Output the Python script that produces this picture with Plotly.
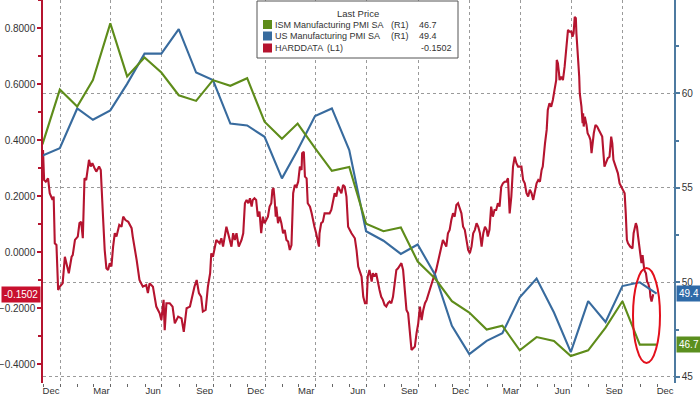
import pandas as pd
import plotly.graph_objects as go

# ---------------- data ----------------
pmi_months = pd.date_range("2020-11-01", periods=37, freq="MS") + pd.offsets.MonthEnd(0)

ism_pmi = [57.3, 60.2, 59.3, 60.7, 63.7, 60.9, 61.9, 61.1, 59.9, 59.6, 60.7, 60.4,
           60.8, 58.5, 57.6, 58.4, 57.1, 55.9, 56.1, 53.1, 52.7, 52.9, 51.1, 50.2,
           49.0, 48.4, 47.5, 47.7, 46.4, 47.1, 46.9, 46.1, 46.4, 47.6, 49.0, 46.7, 46.7]

us_pmi = [56.7, 57.1, 59.2, 58.6, 59.1, 60.5, 62.1, 62.1, 63.4, 61.1, 60.7, 58.4,
          58.3, 57.7, 55.5, 57.0, 58.8, 59.2, 57.0, 52.7, 52.2, 51.5, 52.0, 50.4,
          47.7, 46.2, 46.9, 47.3, 49.2, 50.2, 48.4, 46.3, 49.0, 47.9, 49.8, 50.0, 49.4]

hard_start = "2020-12-01"
hard_days = [0, 2, 5, 9, 12, 17, 19, 21, 24, 27, 30, 35, 39, 42, 46, 51, 53, 57, 62, 65,
             68, 71, 74, 77, 82, 85, 88, 92, 95, 100, 103, 107, 110, 113, 116, 119, 122, 125, 128, 131,
             136, 140, 143, 147, 152, 158, 160, 167, 172, 178, 184, 187, 190, 196, 202, 208, 211, 215, 217, 220,
             226, 231, 235, 241, 247, 251, 256, 262, 267, 270, 274, 278, 282, 285, 290, 294, 298, 300, 303, 306,
             309, 315, 318, 321, 327, 330, 333, 336, 339, 342, 345, 349, 354, 357, 360, 363, 366, 369, 372, 374,
             377, 380, 383, 386, 389, 392, 395, 398, 401, 404, 407, 409, 411, 413, 415, 416, 419, 422, 425, 428,
             431, 434, 437, 440, 443, 446, 449, 452, 455, 458, 461, 462, 465, 467, 470, 472, 476, 479, 481, 484,
             487, 490, 492, 493, 496, 499, 502, 505, 511, 514, 517, 520, 523, 526, 529, 532, 535, 538, 541, 544,
             550, 556, 559, 562, 565, 568, 571, 574, 577, 579, 582, 586, 588, 591, 594, 597, 600, 603, 606, 609,
             612, 615, 618, 621, 624, 627, 630, 633, 636, 639, 642, 645, 648, 651, 654, 657, 660, 663, 666, 669,
             672, 675, 678, 681, 684, 689, 695, 701, 707, 710, 713, 716, 719, 722, 725, 728, 731, 734, 737, 740,
             743, 746, 749, 752, 755, 758, 761, 764, 767, 770, 773, 776, 779, 782, 785, 788, 791, 793, 796, 799,
             802, 805, 808, 811, 814, 817, 820, 823, 826, 829, 832, 835, 838, 841, 844, 847, 850, 853, 856, 859,
             862, 865, 868, 871, 874, 877, 880, 883, 886, 889, 891, 895, 898, 900, 903, 906, 909, 912, 915, 916,
             918, 920, 921, 924, 927, 930, 932, 933, 936, 939, 942, 944, 946, 948, 950, 951, 954, 956, 957, 960,
             962, 963, 964, 966, 969, 971, 974, 976, 978, 980, 982, 985, 988, 991, 994, 997, 1001, 1004, 1007, 1010,
             1013, 1015, 1017, 1021, 1025, 1028, 1031, 1035, 1037, 1039, 1041, 1043, 1047, 1051, 1053, 1057, 1059, 1061, 1064, 1067,
             1069, 1070, 1072, 1075, 1077, 1079, 1082, 1083, 1085, 1088]

hard_vals = [0.365, 0.258, 0.252, 0.264, 0.211, 0.187, 0.199, 0.032, 0.026, -0.135, -0.123, -0.111, -0.016, -0.039, -0.075, -0.016, -0.010, 0.044, 0.056, 0.104,
             0.109, 0.050, 0.264, 0.258, 0.330, 0.306, 0.318, 0.300, 0.288, 0.306, 0.294, 0.127, 0.008, -0.057, -0.063, -0.039, -0.051, 0.020, 0.068, 0.056,
             0.098, 0.091, 0.127, 0.115, 0.109, 0.086, 0.056, -0.028, -0.099, -0.123, -0.117, -0.146, -0.111, -0.123, -0.194, -0.218, -0.242, -0.170, -0.278, -0.182,
             -0.182, -0.194, -0.254, -0.230, -0.236, -0.284, -0.200, -0.194, -0.146, -0.123, -0.099, -0.146, -0.159, -0.212, -0.206, -0.123, -0.075, -0.004, -0.016, 0.020,
             0.044, 0.032, 0.050, 0.020, 0.091, 0.068, 0.044, 0.020, 0.068, 0.044, 0.068, 0.020, 0.044, 0.068, 0.175, 0.187, 0.175, 0.193, 0.163, 0.187,
             0.193, 0.187, 0.127, 0.145, 0.068, 0.127, 0.104, 0.115, 0.127, 0.163, 0.175, 0.223, 0.229, 0.187, 0.127, 0.163, 0.104, 0.127, 0.104, 0.068,
             0.080, 0.044, 0.038, 0.008, 0.026, 0.211, 0.240, 0.234, 0.252, 0.306, 0.294, 0.354, 0.359, 0.270, 0.264, 0.175, 0.163, 0.139, 0.115, 0.091,
             0.068, 0.044, 0.020, 0.068, 0.104, 0.109, 0.139, 0.139, 0.139, 0.151, 0.187, 0.211, 0.199, 0.234, 0.223, 0.211, 0.240, 0.234, 0.199, 0.091,
             0.068, 0.050, 0.008, -0.051, -0.069, -0.087, -0.159, -0.182, -0.182, -0.087, -0.063, -0.105, -0.075, -0.087, -0.075, -0.111, -0.135, -0.159, -0.170, -0.188,
             -0.194, -0.182, -0.176, -0.182, -0.159, -0.111, -0.063, -0.057, -0.045, -0.039, -0.063, -0.135, -0.206, -0.218, -0.278, -0.349, -0.343, -0.337, -0.289, -0.254,
             -0.194, -0.242, -0.206, -0.182, -0.170, -0.135, -0.099, -0.063, -0.010, 0.020, 0.044, 0.032, 0.020, 0.068, 0.080, 0.115, 0.139, 0.127, 0.169, 0.175,
             0.157, 0.139, 0.091, 0.080, 0.044, 0.008, -0.004, 0.020, 0.068, 0.080, 0.104, 0.091, 0.068, 0.020, 0.068, 0.091, 0.080, 0.056, 0.080, 0.163,
             0.127, 0.151, 0.151, 0.175, 0.163, 0.234, 0.246, 0.252, 0.252, 0.264, 0.139, 0.199, 0.306, 0.341, 0.318, 0.306, 0.306, 0.306, 0.258, 0.246,
             0.211, 0.199, 0.223, 0.211, 0.187, 0.223, 0.246, 0.258, 0.252, 0.294, 0.306, 0.389, 0.437, 0.508, 0.532, 0.520, 0.544, 0.580, 0.615, 0.687,
             0.675, 0.639, 0.615, 0.627, 0.615, 0.663, 0.711, 0.746, 0.794, 0.788, 0.788, 0.770, 0.782, 0.841, 0.836, 0.782, 0.699, 0.627, 0.568, 0.520,
             0.461, 0.496, 0.449, 0.484, 0.455, 0.425, 0.413, 0.401, 0.354, 0.401, 0.425, 0.455, 0.449, 0.437, 0.425, 0.413, 0.306, 0.318, 0.336, 0.341,
             0.413, 0.389, 0.330, 0.306, 0.282, 0.246, 0.234, 0.223, 0.211, 0.139, 0.044, 0.032, 0.020, 0.014, 0.068, 0.104, 0.091, 0.056, -0.004, -0.039,
             -0.010, -0.028, -0.063, -0.075, -0.105, -0.111, -0.135, -0.159, -0.176, -0.1502]

hard_dates = pd.Timestamp(hard_start) + pd.to_timedelta(hard_days, unit="D")

tick_months = pd.date_range("2020-12-01", "2023-12-01", freq="MS")
tick_labels = [m.strftime("%b") if m.month in (3, 6, 9, 12) else "" for m in tick_months]

left_ticks = [-0.4, -0.2, 0.0, 0.2, 0.4, 0.6, 0.8]
right_ticks = [45, 50, 55, 60, 65]

series_names = ["ISM Manufacturing PMI SA", "US Manufacturing PMI SA", "HARDDATA"]
series_axes = ["(R1)", "(R1)", "(L1)"]
last_prices = ["46.7", "49.4", "-0.1502"]

# ---------------- style ----------------
RED = "#b5142f"
GREEN = "#5e8c1a"
BLUE = "#386b9e"
FONT = "Liberation Sans"
TXT = "#333333"
GRID = "#9a9a9a"

fig = go.Figure()
fig.add_trace(go.Scatter(x=hard_dates, y=hard_vals, mode="lines",
                         line=dict(color=RED, width=2.1), yaxis="y", name=series_names[2]))
fig.add_trace(go.Scatter(x=pmi_months, y=us_pmi, mode="lines",
                         line=dict(color=BLUE, width=2.1), yaxis="y2", name=series_names[1]))
fig.add_trace(go.Scatter(x=pmi_months, y=ism_pmi, mode="lines",
                         line=dict(color=GREEN, width=2.1), yaxis="y2", name=series_names[0]))

fig.update_layout(
    width=700, height=394,
    margin=dict(l=43, r=26, t=0, b=11, autoexpand=False),
    paper_bgcolor="white", plot_bgcolor="white",
    showlegend=False,
    font=dict(family=FONT, size=10, color=TXT),
    xaxis=dict(
        type="date", range=["2020-12-01", "2023-12-31"], automargin=False,
        tickvals=tick_months, ticktext=tick_labels, ticklabelshift=8, ticklabelstandoff=-4,
        ticks="outside", ticklen=3, tickcolor="#666666",
        showgrid=False, zeroline=False, showline=False,
        tickfont=dict(size=9.5, color=TXT),
        minor=dict(tick0="2021-01-01", dtick="M3", showgrid=True, griddash="dot",
                   gridcolor=GRID, gridwidth=1, ticks=""),
    ),
    yaxis=dict(
        range=[-0.467, 0.901], side="left", automargin=False,
        tickvals=left_ticks, tickformat=".4f",
        ticks="outside", ticklen=4, tickcolor=RED, tickwidth=1.5,
        showline=True, linecolor=RED, linewidth=1.5,
        showgrid=False, zeroline=False,
        minor=dict(dtick=0.1, tick0=0, ticks="outside", ticklen=3, tickcolor=RED),
        tickfont=dict(size=10, color=TXT),
    ),
    yaxis2=dict(
        range=[44.67, 64.94], side="right", overlaying="y", automargin=False,
        tickvals=right_ticks,
        ticks="outside", ticklen=4, tickcolor="#4d7aa0", tickwidth=1.5,
        showline=True, linecolor="#4d7aa0", linewidth=1.5,
        showgrid=True, gridcolor=GRID, griddash="dot", gridwidth=1,
        zeroline=False,
        minor=dict(dtick=2.5, tick0=45, ticks="outside", ticklen=3, tickcolor="#4d7aa0"),
        tickfont=dict(size=10, color=TXT),
    ),
)

# ---------------- legend box (Bloomberg style) ----------------
def px_x(p):
    return (p - 43) / 631.0

def px_y(p):
    return (383 - p) / 383.0

LEG = 9
fig.add_shape(type="rect", xref="paper", yref="paper",
              x0=px_x(257), x1=px_x(458), y0=px_y(58), y1=px_y(1),
              line=dict(color="#555555", width=1), fillcolor="white", layer="above")
fig.add_annotation(xref="paper", yref="paper", x=px_x(358), y=px_y(14),
                   text="Last Price", showarrow=False, xanchor="center", yanchor="middle",
                   font=dict(size=9.5, color=TXT, family=FONT))
row_y = [24.5, 36, 48]
colors = [GREEN, BLUE, RED]
axis_x = [389, 389, 325]
for i in range(3):
    fig.add_shape(type="rect", xref="paper", yref="paper",
                  x0=px_x(263), x1=px_x(272), y0=px_y(row_y[i] + 4.5), y1=px_y(row_y[i] - 4.5),
                  line=dict(width=0), fillcolor=colors[i], layer="above")
    fig.add_annotation(xref="paper", yref="paper", x=px_x(273), y=px_y(row_y[i]),
                       text=series_names[i], showarrow=False, xanchor="left", yanchor="middle",
                       font=dict(size=LEG, color=TXT, family=FONT))
    fig.add_annotation(xref="paper", yref="paper", x=px_x(axis_x[i]), y=px_y(row_y[i]),
                       text=series_axes[i], showarrow=False, xanchor="left", yanchor="middle",
                       font=dict(size=LEG, color=TXT, family=FONT))
    fig.add_annotation(xref="paper", yref="paper", x=px_x(417 if i < 2 else 419), y=px_y(row_y[i]),
                       text=last_prices[i], showarrow=False, xanchor="left", yanchor="middle",
                       font=dict(size=LEG, color=TXT, family=FONT))

# ---------------- last-price tags ----------------
fig.add_annotation(xref="paper", yref="y2", x=1, y=us_pmi[-1], text=last_prices[1],
                   showarrow=False, xanchor="left", yanchor="middle", xshift=2,
                   bgcolor="#2e6aa8", borderpad=2, font=dict(color="white", size=10, family=FONT))
fig.add_annotation(xref="paper", yref="y2", x=1, y=ism_pmi[-1], text=last_prices[0],
                   showarrow=False, xanchor="left", yanchor="middle", xshift=2,
                   bgcolor="#5b8f1f", borderpad=2, font=dict(color="white", size=10, family=FONT))
fig.add_annotation(xref="paper", yref="y", x=0, y=hard_vals[-1], text=last_prices[2],
                   showarrow=False, xanchor="right", yanchor="middle", xshift=-2,
                   bgcolor="#c8102e", borderpad=2, font=dict(color="white", size=10, family=FONT))

# ---------------- red highlight ellipse ----------------
fig.add_shape(type="circle", xref="paper", yref="paper",
              x0=px_x(633), x1=px_x(660), y0=px_y(363), y1=px_y(268),
              line=dict(color="#e3101c", width=2))

fig.write_html("out.html", config={"displayModeBar": False},
               post_script="document.body.style.margin='0';document.body.style.overflow='hidden';")
